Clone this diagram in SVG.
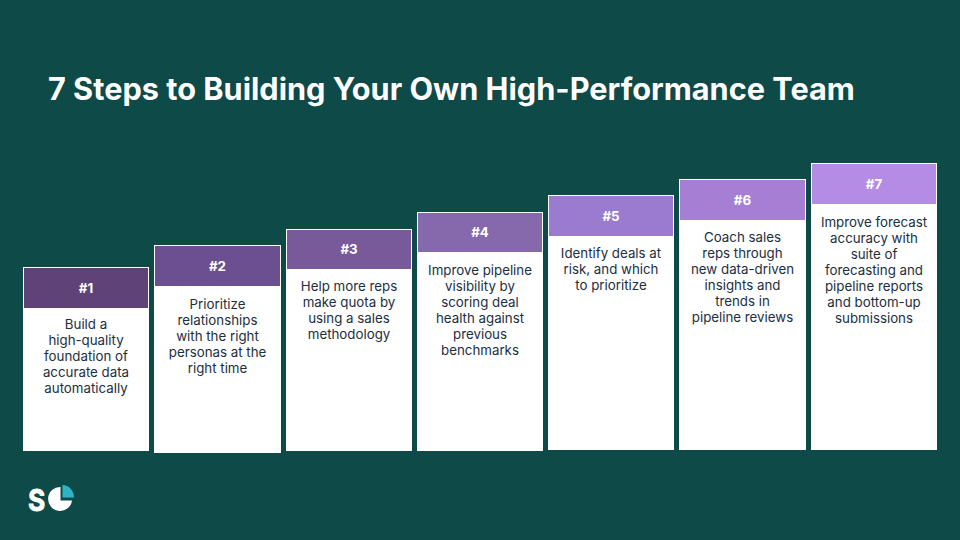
<svg xmlns="http://www.w3.org/2000/svg" width="960" height="540" viewBox="0 0 960 540">
<style>
text{font-family:Inter,"Liberation Sans",sans-serif}
.b{fill:#fff}
.n{fill:#fff;font-size:13.3px;font-weight:700;text-anchor:middle}
.t{fill:#1c2e3e;font-size:13.3px;text-anchor:middle}
</style>
<rect width="960" height="540" fill="#0d4a48"/>
<text id="title" x="48" y="100" fill="#fff" font-size="30.700" font-weight="700">7 Steps to Building Your Own High-Performance Team</text>
<g id="step1"><rect class="b" x="23" y="267" width="126" height="184"/><rect x="24" y="268" width="124" height="40" fill="#5f4278"/><text class="n" x="86" y="293">#1</text>
<text class="t" x="86" y="328.500">Build a</text><text class="t" x="86" y="344.500">high-quality</text><text class="t" x="86" y="360.500">foundation of</text><text class="t" x="86" y="376.500">accurate data</text><text class="t" x="86" y="392.500">automatically</text></g>
<g id="step2"><rect class="b" x="154" y="245" width="127" height="208"/><rect x="155" y="246" width="125" height="40" fill="#6c4f90"/><text class="n" x="217.500" y="271">#2</text>
<text class="t" x="217.500" y="308.500">Prioritize</text><text class="t" x="217.500" y="324.500">relationships</text><text class="t" x="217.500" y="340.500">with the right</text><text class="t" x="217.500" y="356.500">personas at the</text><text class="t" x="217.500" y="372.500">right time</text></g>
<g id="step3"><rect class="b" x="286" y="229" width="126" height="222"/><rect x="287" y="230" width="124" height="39" fill="#785a9b"/><text class="n" x="349" y="254">#3</text>
<text class="t" x="349" y="290.500">Help more reps</text><text class="t" x="349" y="306.500">make quota by</text><text class="t" x="349" y="322.500">using a sales</text><text class="t" x="349" y="338.500">methodology</text></g>
<g id="step4"><rect class="b" x="417" y="212" width="126" height="239"/><rect x="418" y="213" width="124" height="39" fill="#8668ad"/><text class="n" x="480" y="237">#4</text>
<text class="t" x="480" y="274.500">Improve pipeline</text><text class="t" x="480" y="290.500">visibility by</text><text class="t" x="480" y="306.500">scoring deal</text><text class="t" x="480" y="322.500">health against</text><text class="t" x="480" y="338.500">previous</text><text class="t" x="480" y="354.500">benchmarks</text></g>
<g id="step5"><rect class="b" x="548" y="195" width="126" height="255"/><rect x="549" y="196" width="124" height="40" fill="#9b7bcf"/><text class="n" x="611" y="221">#5</text>
<text class="t" x="611" y="257.500">Identify deals at</text><text class="t" x="611" y="273.500">risk, and which</text><text class="t" x="611" y="289.500">to prioritize</text></g>
<g id="step6"><rect class="b" x="679" y="179" width="127" height="271"/><rect x="680" y="180" width="125" height="40" fill="#a67fd5"/><text class="n" x="742.500" y="205">#6</text>
<text class="t" x="742.500" y="241.500">Coach sales</text><text class="t" x="742.500" y="257.500">reps through</text><text class="t" x="742.500" y="273.500">new data-driven</text><text class="t" x="742.500" y="289.500">insights and</text><text class="t" x="742.500" y="305.500">trends in</text><text class="t" x="742.500" y="321.500">pipeline reviews</text></g>
<g id="step7"><rect class="b" x="811" y="163" width="126" height="287"/><rect x="812" y="164" width="124" height="40" fill="#b48ce6"/><text class="n" x="874" y="189">#7</text>
<text class="t" x="874" y="226.500">Improve forecast</text><text class="t" x="874" y="242.500">accuracy with</text><text class="t" x="874" y="258.500">suite of</text><text class="t" x="874" y="274.500">forecasting and</text><text class="t" x="874" y="290.500">pipeline reports</text><text class="t" x="874" y="306.500">and bottom-up</text><text class="t" x="874" y="322.500">submissions</text></g>
<g id="logo">
<text transform="translate(28 510.500) scale(.88 1)" fill="#fff" stroke="#fff" stroke-width=".8" font-size="30" font-weight="700">S</text>
<path d="M60.500 487A12 12 0 1 0 72 500.500H60.500Z" fill="#fff"/>
<path d="M62.500 485A11.500 12.500 0 0 1 74 497.500H62.500Z" fill="#2fb3c6"/>
</g>
</svg>
